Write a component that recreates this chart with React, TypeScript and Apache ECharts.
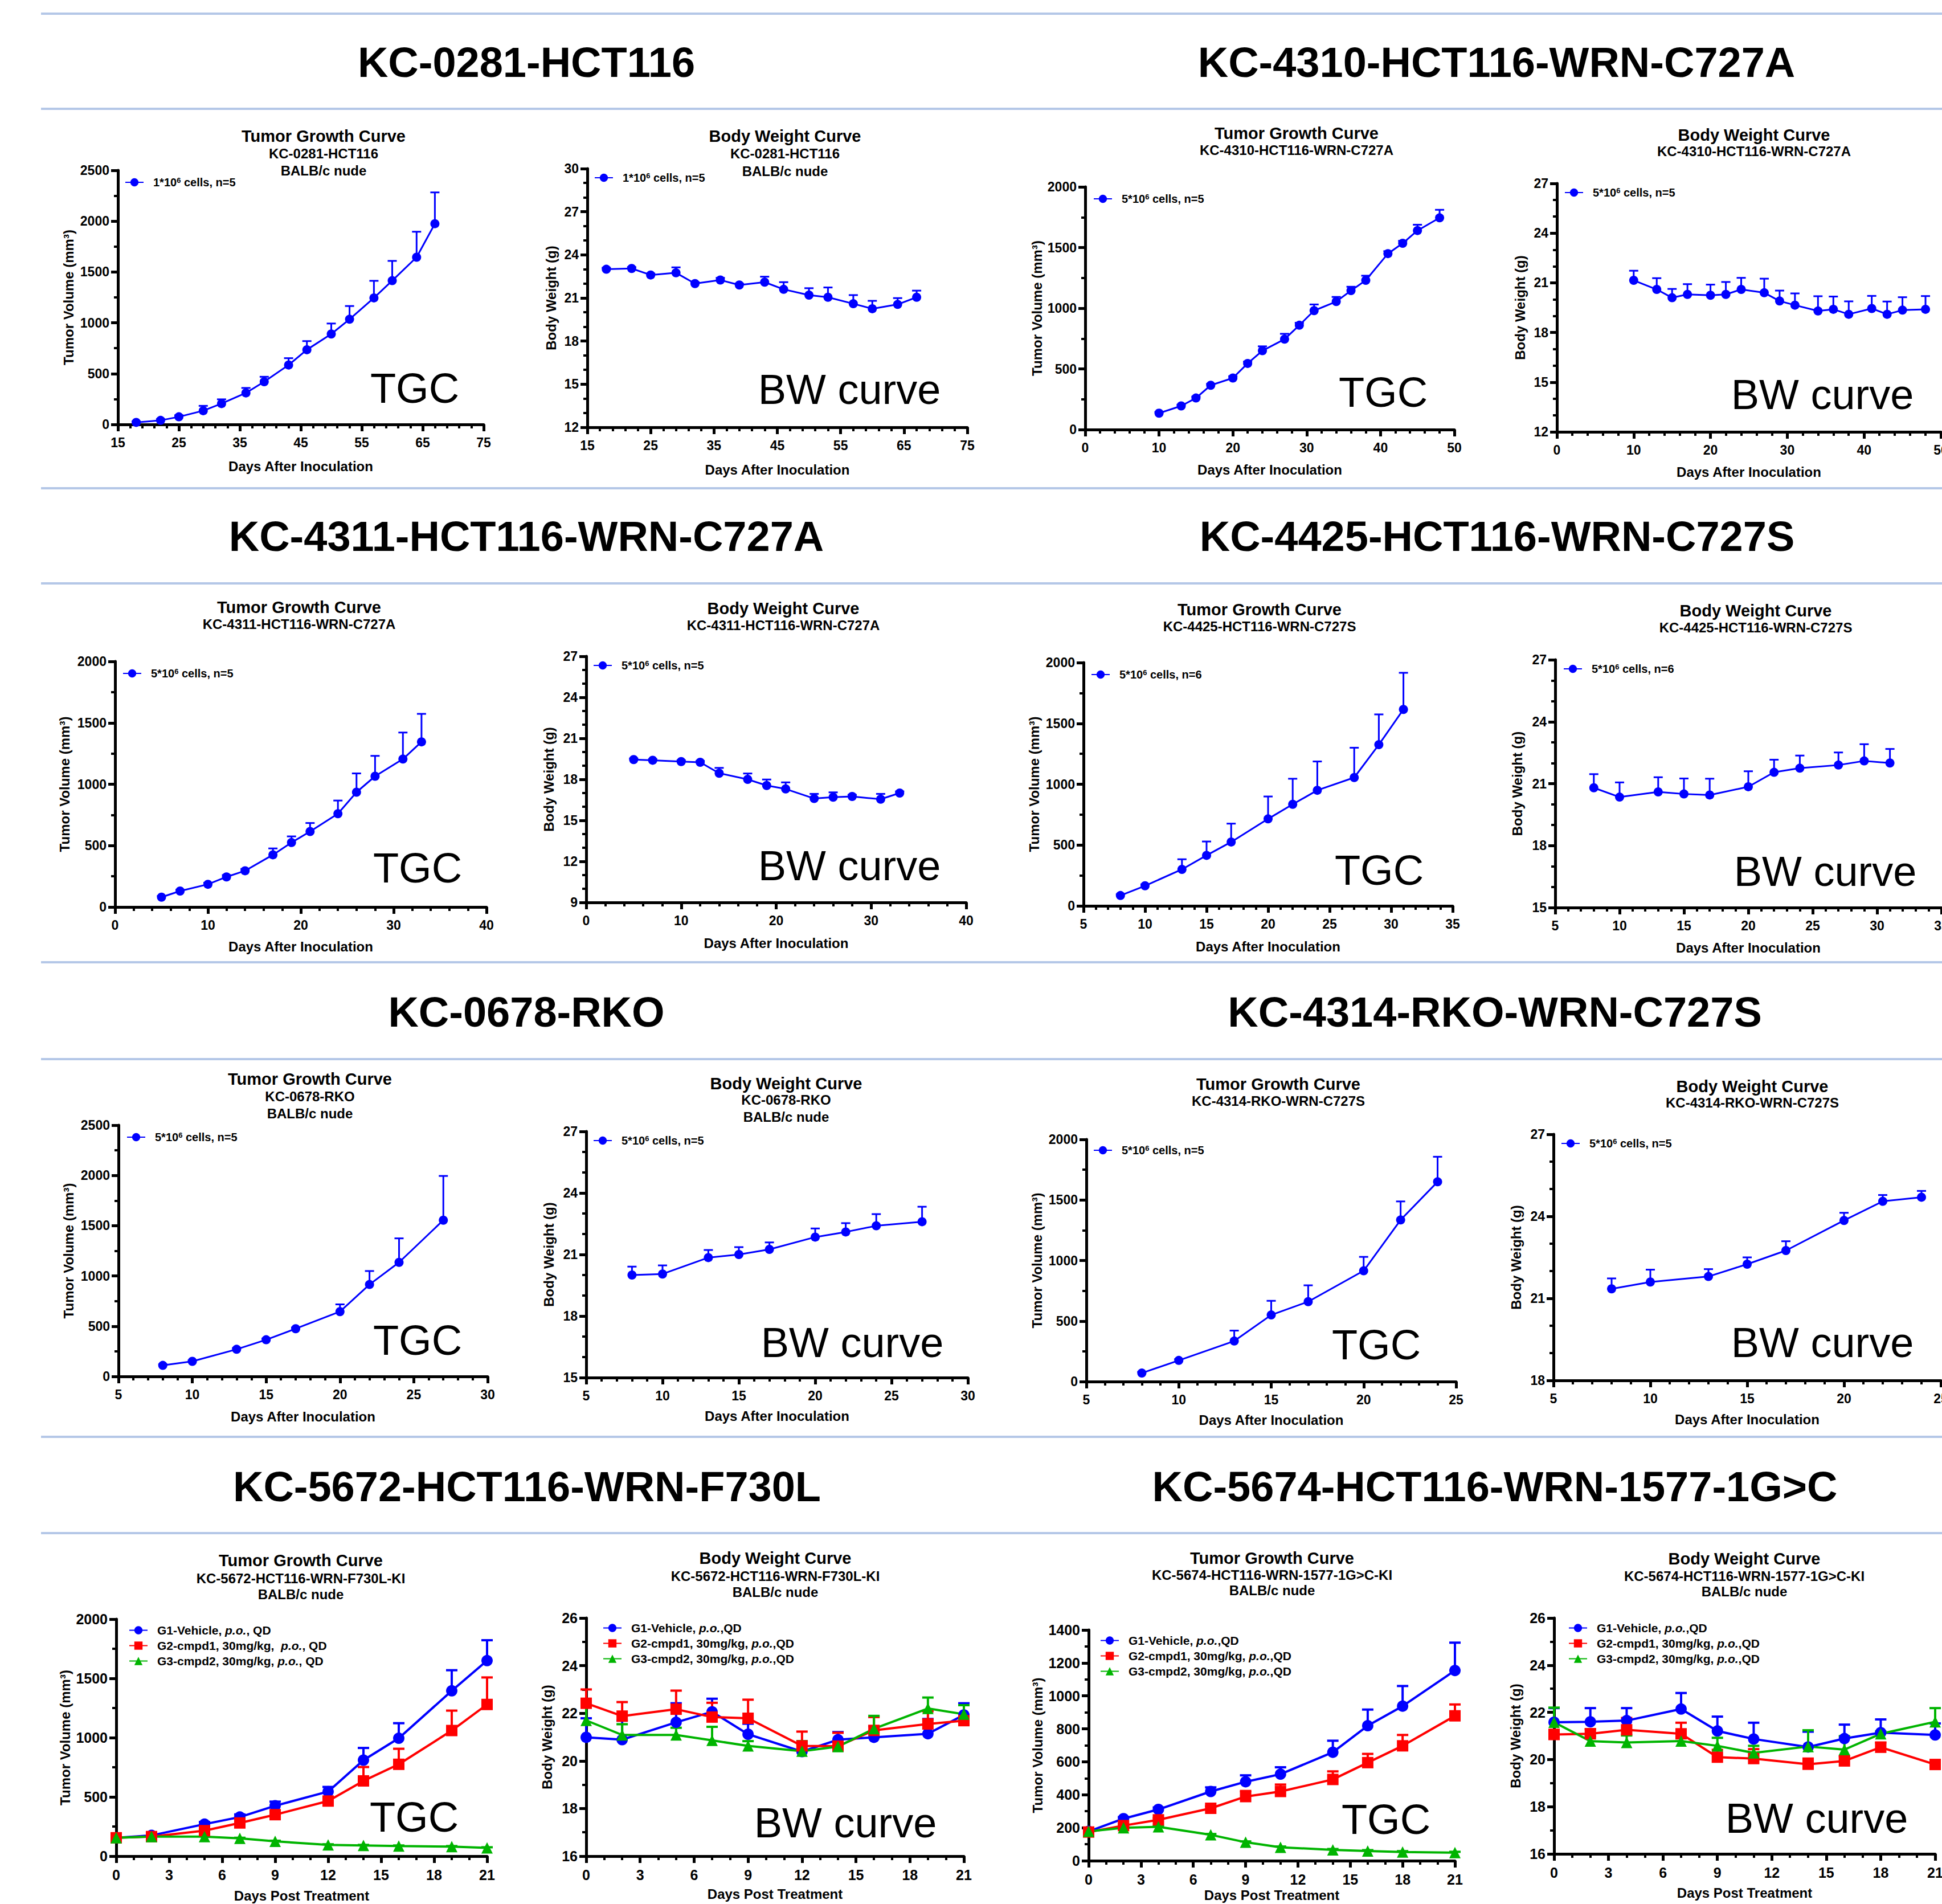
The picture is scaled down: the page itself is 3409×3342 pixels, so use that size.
import React, { useEffect, useRef } from "react";
import * as echarts from "echarts";

const W = 3409;
const H = 3342;
const FONT = "'Liberation Sans', Arial, Helvetica, sans-serif";
const BLUE = "#0000FF";
const RED = "#FF0000";
const GREEN = "#00B400";

// ---------- KC-0281-HCT116 ----------
const days0281 = [18, 22, 25, 29, 32, 36, 39, 43, 46, 50, 53, 57, 60, 64, 67];
const tgc0281 = [20, 40, 75, 135, 205, 310, 420, 585, 735, 890, 1035, 1245, 1415, 1645, 1975];
const tgc0281Sd = [10, 12, 15, 48, 42, 49, 49, 67, 85, 103, 130, 168, 194, 251, 308];
const bw0281 = [23.0, 23.05, 22.6, 22.75, 22.0, 22.25, 21.9, 22.1, 21.6, 21.2, 21.05, 20.6, 20.25, 20.55, 21.05];
const bw0281Sd = [0.1, 0.1, 0.1, 0.38, 0.1, 0.15, 0.1, 0.38, 0.5, 0.48, 0.68, 0.6, 0.55, 0.44, 0.46];
const ticks0281Major = [15, 25, 35, 45, 55, 65, 75];
const ticks0281Minor = [17, 19, 21, 23, 27, 29, 31, 33, 37, 39, 41, 43, 47, 49, 51, 53, 57, 59, 61, 63, 67, 69, 71, 73];

// ---------- KC-4310-HCT116-WRN-C727A ----------
const days4310 = [10, 13, 15, 17, 20, 22, 24, 27, 29, 31, 34, 36, 38, 41, 43, 45, 48];
const tgc4310 = [135, 195, 260, 365, 425, 545, 650, 745, 860, 980, 1055, 1145, 1230, 1450, 1535, 1640, 1745];
const tgc4310Sd = [10, 10, 12, 12, 15, 15, 36, 44, 20, 51, 38, 32, 38, 20, 20, 48, 66];
const bw4310 = [21.15, 20.6, 20.1, 20.3, 20.25, 20.3, 20.6, 20.4, 19.9, 19.65, 19.3, 19.4, 19.1, 19.45, 19.1, 19.35, 19.4];
const bw4310Sd = [0.58, 0.68, 0.53, 0.62, 0.64, 0.75, 0.7, 0.85, 0.63, 0.71, 0.89, 0.77, 0.78, 0.76, 0.77, 0.78, 0.8];

// ---------- KC-4311-HCT116-WRN-C727A ----------
const days4311 = [5, 7, 10, 12, 14, 17, 19, 21, 24, 26, 28, 31, 33];
const tgc4311 = [80, 130, 185, 245, 295, 425, 525, 615, 760, 935, 1065, 1205, 1345];
const tgc4311Sd = [10, 10, 12, 15, 15, 52, 50, 69, 107, 153, 166, 216, 228];
const bw4311 = [19.45, 19.4, 19.3, 19.25, 18.45, 18.0, 17.55, 17.3, 16.6, 16.7, 16.75, 16.55, 17.0];
const bw4311Sd = [0.08, 0.08, 0.1, 0.1, 0.39, 0.43, 0.44, 0.48, 0.34, 0.35, 0.12, 0.39, 0.12];

// ---------- KC-4425-HCT116-WRN-C727S ----------
const days4425 = [8, 10, 13, 15, 17, 20, 22, 24, 27, 29, 31];
const tgc4425 = [85, 165, 300, 415, 525, 715, 835, 950, 1055, 1325, 1615];
const tgc4425Sd = [10, 12, 83, 114, 151, 184, 210, 237, 245, 249, 301];
const bw4425 = [20.8, 20.35, 20.6, 20.5, 20.45, 20.85, 21.55, 21.75, 21.9, 22.1, 22.0];
const bw4425Sd = [0.66, 0.71, 0.71, 0.75, 0.79, 0.75, 0.61, 0.61, 0.61, 0.81, 0.68];

// ---------- KC-0678-RKO ----------
const days0678 = [8, 10, 13, 15, 17, 20, 22, 24, 27];
const tgc0678 = [110, 150, 270, 365, 475, 645, 915, 1135, 1555];
const tgc0678Sd = [10, 10, 12, 12, 12, 72, 134, 239, 440];
const bw0678 = [20.0, 20.05, 20.85, 21.0, 21.25, 21.85, 22.1, 22.4, 22.6];
const bw0678Sd = [0.41, 0.42, 0.37, 0.36, 0.34, 0.42, 0.43, 0.57, 0.73];

// ---------- KC-4314-RKO-WRN-C727S ----------
const days4314 = [8, 10, 13, 15, 17, 20, 22, 24];
const tgc4314 = [70, 175, 335, 550, 660, 915, 1335, 1650];
const tgc4314Sd = [10, 10, 86, 117, 135, 115, 153, 207];
const bw4314 = [21.35, 21.6, 21.8, 22.25, 22.75, 23.85, 24.55, 24.7];
const bw4314Sd = [0.38, 0.45, 0.27, 0.25, 0.34, 0.28, 0.23, 0.23];

// ---------- KC-5672-HCT116-WRN-F730L-KI ----------
const days5672 = [0, 2, 5, 7, 9, 12, 14, 16, 19, 21];
const tgc5672G1 = [155, 175, 270, 330, 425, 545, 810, 995, 1395, 1650];
const tgc5672G1Sd = [10, 12, 18, 22, 35, 39, 103, 127, 174, 172];
const tgc5672G2 = [155, 165, 215, 280, 350, 465, 635, 775, 1060, 1280];
const tgc5672G2Sd = [8, 10, 15, 18, 22, 28, 117, 131, 168, 228];
const tgc5672G3 = [155, 165, 165, 150, 125, 95, 90, 85, 80, 70];
const tgc5672G3Sd = [5, 5, 5, 5, 5, 5, 5, 5, 5, 5];
const bw5672G1 = [20.99, 20.89, 21.62, 22.06, 21.12, 20.39, 20.89, 20.99, 21.14, 21.93];
const bw5672G1Sd = [0.8, 0.8, 0.8, 0.55, 0.44, 0.34, 0.32, 0.46, 0.62, 0.49];
const bw5672G2 = [22.42, 21.88, 22.17, 21.84, 21.79, 20.63, 20.62, 21.28, 21.55, 21.69];
const bw5672G2Sd = [0.58, 0.59, 0.78, 0.6, 0.78, 0.6, 0.56, 0.56, 0.53, 0.65];
const bw5672G3 = [21.7, 21.09, 21.09, 20.86, 20.63, 20.41, 20.6, 21.35, 22.2, 21.96];
const bw5672G3Sd = [0.6, 0.45, 0.3, 0.57, 0.2, 0.42, 0.2, 0.54, 0.46, 0.38];

// ---------- KC-5674-HCT116-WRN-1577-1G>C-KI ----------
const days5674 = [0, 2, 4, 7, 9, 11, 14, 16, 18, 21];
const tgc5674G1 = [178, 255, 311, 420, 479, 525, 658, 819, 938, 1154];
const tgc5674G1Sd = [8, 10, 12, 25, 39, 42, 70, 98, 122, 169];
const tgc5674G2 = [174, 213, 248, 318, 389, 420, 493, 595, 697, 879];
const tgc5674G2Sd = [6, 8, 10, 12, 34, 42, 49, 53, 66, 69];
const tgc5674G3 = [178, 200, 206, 157, 112, 81, 66, 59, 53, 49];
const tgc5674G3Sd = [5, 5, 5, 5, 5, 5, 5, 5, 5, 5];
const bw5674G1 = [21.58, 21.6, 21.65, 22.14, 21.21, 20.87, 20.53, 20.89, 21.14, 21.04];
const bw5674G1Sd = [0.6, 0.58, 0.53, 0.68, 0.61, 0.69, 0.65, 0.59, 0.56, 0.49];
const bw5674G2 = [21.06, 21.09, 21.26, 21.09, 20.1, 20.04, 19.8, 19.94, 20.52, 19.79];
const bw5674G2Sd = [0.2, 0.2, 0.5, 0.47, 0.31, 0.4, 0.24, 0.2, 0.2, 0.15];
const bw5674G3 = [21.58, 20.78, 20.72, 20.78, 20.58, 20.28, 20.55, 20.42, 21.09, 21.6];
const bw5674G3Sd = [0.62, 0.2, 0.3, 0.2, 0.34, 0.3, 0.69, 0.57, 0.1, 0.58];

// ---------- texts ----------
const TGC_Y = "Tumor Volume (mm³)";
const BW_Y = "Body Weight (g)";
const DAI = "Days After Inoculation";
const DPT = "Days Post Treatment";
const cells1n5 = "1*10^6 cells, n=5";
const cells5n5 = "5*10^6 cells, n=5";
const cells5n6 = "5*10^6 cells, n=6";
const g1a = "G1-Vehicle, p.o., QD";
const g2a = "G2-cmpd1, 30mg/kg,  p.o., QD";
const g3a = "G3-cmpd2, 30mg/kg, p.o., QD";
const g1b = "G1-Vehicle, p.o.,QD";
const g2b = "G2-cmpd1, 30mg/kg, p.o.,QD";
const g3b = "G3-cmpd2, 30mg/kg, p.o.,QD";

const sectionTitles: [string, number, number][] = [
  ["KC-0281-HCT116", 924, 109],
  ["KC-4310-HCT116-WRN-C727A", 2627, 109],
  ["KC-4311-HCT116-WRN-C727A", 924, 941],
  ["KC-4425-HCT116-WRN-C727S", 2628, 941],
  ["KC-0678-RKO", 924, 1776],
  ["KC-4314-RKO-WRN-C727S", 2624, 1776],
  ["KC-5672-HCT116-WRN-F730L", 925, 2609],
  ["KC-5674-HCT116-WRN-1577-1G>C", 2624, 2609],
];
const separatorYs = [24, 191, 857, 1024, 1689, 1859, 2522, 2691];

type Ser = { name: string; x: number[]; y: number[]; sd: number[]; color: string; symbol: string };
type Panel = {
  grid: number[];
  xr: number[];
  yr: number[];
  xName: string;
  yName: string;
  xGap: number;
  yGap: number;
  legend: number[];
  series: Ser[];
  big: boolean;
  titleX: number;
  titles: [string, number][];
  tag: string;
  tagPos: number[];
  customX?: number[][];
};

const one = (name: string, x: number[], y: number[], sd: number[]): Ser[] => [
  { name, x, y, sd, color: BLUE, symbol: "circle" },
];
const three = (n: string[], x: number[], ys: number[][], sds: number[][]): Ser[] => [
  { name: n[0], x, y: ys[0], sd: sds[0], color: BLUE, symbol: "circle" },
  { name: n[1], x, y: ys[1], sd: sds[1], color: RED, symbol: "rect" },
  { name: n[2], x, y: ys[2], sd: sds[2], color: GREEN, symbol: "triangle" },
];

const panels: Panel[] = [
  {
    grid: [207, 299, 642, 446], xr: [15, 75, 10, 5], yr: [0, 2500, 500, 2], xName: DAI, yName: TGC_Y, xGap: 61, yGap: 75,
    legend: [219, 310], series: one(cells1n5, days0281, tgc0281, tgc0281Sd), big: false, titleX: 568,
    titles: [["Tumor Growth Curve", 239], ["KC-0281-HCT116", 269], ["BALB/c nude", 299]], tag: "TGC", tagPos: [728, 681],
    customX: [ticks0281Major, ticks0281Minor],
  },
  {
    grid: [1031, 296, 667, 454], xr: [15, 75, 10, 5], yr: [12, 30, 3, 3], xName: DAI, yName: BW_Y, xGap: 62, yGap: 52,
    legend: [1043, 302], series: one(cells1n5, days0281, bw0281, bw0281Sd), big: false, titleX: 1378,
    titles: [["Body Weight Curve", 239], ["KC-0281-HCT116", 269], ["BALB/c nude", 300]], tag: "BW curve", tagPos: [1491, 683],
    customX: [ticks0281Major, ticks0281Minor],
  },
  {
    grid: [1905, 328, 648, 426], xr: [0, 50, 10, 5], yr: [0, 2000, 500, 2], xName: DAI, yName: TGC_Y, xGap: 58, yGap: 73,
    legend: [1919, 339], series: one(cells5n5, days4310, tgc4310, tgc4310Sd), big: false, titleX: 2276,
    titles: [["Tumor Growth Curve", 234], ["KC-4310-HCT116-WRN-C727A", 263]], tag: "TGC", tagPos: [2428, 688],
  },
  {
    grid: [2733, 322, 674, 436], xr: [0, 50, 10, 5], yr: [12, 27, 3, 3], xName: DAI, yName: BW_Y, xGap: 58, yGap: 53,
    legend: [2746, 328], series: one(cells5n5, days4310, bw4310, bw4310Sd), big: false, titleX: 3079,
    titles: [["Body Weight Curve", 237], ["KC-4310-HCT116-WRN-C727A", 265]], tag: "BW curve", tagPos: [3199, 692],
  },
  {
    grid: [202, 1161, 652, 431], xr: [0, 40, 10, 5], yr: [0, 2000, 500, 2], xName: DAI, yName: TGC_Y, xGap: 57, yGap: 77,
    legend: [215, 1172], series: one(cells5n5, days4311, tgc4311, tgc4311Sd), big: false, titleX: 525,
    titles: [["Tumor Growth Curve", 1066], ["KC-4311-HCT116-WRN-C727A", 1095]], tag: "TGC", tagPos: [733, 1523],
  },
  {
    grid: [1029, 1152, 667, 432], xr: [0, 40, 10, 5], yr: [9, 27, 3, 3], xName: DAI, yName: BW_Y, xGap: 59, yGap: 54,
    legend: [1041, 1158], series: one(cells5n5, days4311, bw4311, bw4311Sd), big: false, titleX: 1375,
    titles: [["Body Weight Curve", 1068], ["KC-4311-HCT116-WRN-C727A", 1097]], tag: "BW curve", tagPos: [1491, 1519],
  },
  {
    grid: [1902, 1163, 648, 427], xr: [5, 35, 5, 5], yr: [0, 2000, 500, 2], xName: DAI, yName: TGC_Y, xGap: 59, yGap: 75,
    legend: [1915, 1174], series: one(cells5n6, days4425, tgc4425, tgc4425Sd), big: false, titleX: 2211,
    titles: [["Tumor Growth Curve", 1070], ["KC-4425-HCT116-WRN-C727S", 1099]], tag: "TGC", tagPos: [2421, 1527],
  },
  {
    grid: [2730, 1158, 678, 435], xr: [5, 35, 5, 5], yr: [15, 27, 3, 3], xName: DAI, yName: BW_Y, xGap: 58, yGap: 55,
    legend: [2744, 1164], series: one(cells5n6, days4425, bw4425, bw4425Sd), big: false, titleX: 3082,
    titles: [["Body Weight Curve", 1072], ["KC-4425-HCT116-WRN-C727S", 1101]], tag: "BW curve", tagPos: [3204, 1529],
  },
  {
    grid: [208, 1975, 648, 441], xr: [5, 30, 5, 5], yr: [0, 2500, 500, 2], xName: DAI, yName: TGC_Y, xGap: 58, yGap: 76,
    legend: [222, 1986], series: one(cells5n5, days0678, tgc0678, tgc0678Sd), big: false, titleX: 544,
    titles: [["Tumor Growth Curve", 1894], ["KC-0678-RKO", 1924], ["BALB/c nude", 1954]], tag: "TGC", tagPos: [733, 2352],
  },
  {
    grid: [1029, 1986, 670, 432], xr: [5, 30, 5, 5], yr: [15, 27, 3, 3], xName: DAI, yName: BW_Y, xGap: 55, yGap: 54,
    legend: [1041, 1992], series: one(cells5n5, days0678, bw0678, bw0678Sd), big: false, titleX: 1380,
    titles: [["Body Weight Curve", 1902], ["KC-0678-RKO", 1930], ["BALB/c nude", 1960]], tag: "BW curve", tagPos: [1496, 2356],
  },
  {
    grid: [1907, 2000, 649, 425], xr: [5, 25, 5, 5], yr: [0, 2000, 500, 2], xName: DAI, yName: TGC_Y, xGap: 55, yGap: 75,
    legend: [1919, 2009], series: one(cells5n5, days4314, tgc4314, tgc4314Sd), big: false, titleX: 2244,
    titles: [["Tumor Growth Curve", 1903], ["KC-4314-RKO-WRN-C727S", 1932]], tag: "TGC", tagPos: [2416, 2360],
  },
  {
    grid: [2727, 1991, 680, 432], xr: [5, 25, 5, 5], yr: [18, 27, 3, 3], xName: DAI, yName: BW_Y, xGap: 56, yGap: 54,
    legend: [2740, 1997], series: one(cells5n5, days4314, bw4314, bw4314Sd), big: false, titleX: 3076,
    titles: [["Body Weight Curve", 1907], ["KC-4314-RKO-WRN-C727S", 1935]], tag: "BW curve", tagPos: [3199, 2356],
  },
  {
    grid: [204, 2842, 651, 416], xr: [0, 21, 3, 3], yr: [0, 2000, 500, 2], xName: DPT, yName: TGC_Y, xGap: 57, yGap: 78,
    legend: [226, 2851], big: true, titleX: 528,
    series: three([g1a, g2a, g3a], days5672, [tgc5672G1, tgc5672G2, tgc5672G3], [tgc5672G1Sd, tgc5672G2Sd, tgc5672G3Sd]),
    titles: [["Tumor Growth Curve", 2739], ["KC-5672-HCT116-WRN-F730L-KI", 2770], ["BALB/c nude", 2798]], tag: "TGC", tagPos: [727, 3189],
  },
  {
    grid: [1029, 2840, 663, 418], xr: [0, 21, 3, 3], yr: [16, 26, 2, 2], xName: DPT, yName: BW_Y, xGap: 54, yGap: 57,
    legend: [1058, 2847], big: true, titleX: 1361,
    series: three([g1b, g2b, g3b], days5672, [bw5672G1, bw5672G2, bw5672G3], [bw5672G1Sd, bw5672G2Sd, bw5672G3Sd]),
    titles: [["Body Weight Curve", 2735], ["KC-5672-HCT116-WRN-F730L-KI", 2766], ["BALB/c nude", 2794]], tag: "BW curve", tagPos: [1484, 3199],
  },
  {
    grid: [1911, 2861, 643, 405], xr: [0, 21, 3, 3], yr: [0, 1400, 200, 2], xName: DPT, yName: TGC_Y, xGap: 48, yGap: 78,
    legend: [1931, 2869], big: true, titleX: 2233,
    series: three([g1b, g2b, g3b], days5674, [tgc5674G1, tgc5674G2, tgc5674G3], [tgc5674G1Sd, tgc5674G2Sd, tgc5674G3Sd]),
    titles: [["Tumor Growth Curve", 2735], ["KC-5674-HCT116-WRN-1577-1G>C-KI", 2764], ["BALB/c nude", 2791]], tag: "TGC", tagPos: [2433, 3193],
  },
  {
    grid: [2728, 2840, 669, 414], xr: [0, 21, 3, 3], yr: [16, 26, 2, 2], xName: DPT, yName: BW_Y, xGap: 56, yGap: 56,
    legend: [2753, 2847], big: true, titleX: 3062,
    series: three([g1b, g2b, g3b], days5674, [bw5674G1, bw5674G2, bw5674G3], [bw5674G1Sd, bw5674G2Sd, bw5674G3Sd]),
    titles: [["Body Weight Curve", 2736], ["KC-5674-HCT116-WRN-1577-1G>C-KI", 2766], ["BALB/c nude", 2793]], tag: "BW curve", tagPos: [3189, 3191],
  },
];

function baseAxis(i: number, r: number[], name: string, gap: number, labelSize: number, margin: number): any {
  return {
    type: "value",
    gridIndex: i,
    min: r[0],
    max: r[1],
    interval: r[2],
    name,
    nameLocation: "middle",
    nameGap: gap,
    nameTextStyle: { color: "#000", fontFamily: FONT, fontSize: 24, fontWeight: "bold" },
    axisLine: { show: true, onZero: false, lineStyle: { color: "#000", width: 5 } },
    axisTick: { show: true, inside: false, length: 12, lineStyle: { color: "#000", width: 5 } },
    minorTick: { show: true, splitNumber: r[3], length: 7, lineStyle: { color: "#000", width: 4 } },
    axisLabel: {
      show: true,
      color: "#000",
      fontFamily: FONT,
      fontSize: labelSize,
      fontWeight: "bold",
      margin,
      formatter: (v: number) => String(v),
    },
    splitLine: { show: false },
    minorSplitLine: { show: false },
  };
}

function makeErr(color: string, lw: number, half: number) {
  return (params: any, api: any) => {
    const x = api.value(0);
    const y = api.value(1);
    const sd = api.value(2);
    const p0 = api.coord([x, y]);
    const p1 = api.coord([x, y + sd]);
    return {
      type: "group",
      children: [
        { type: "line", shape: { x1: p0[0], y1: p0[1], x2: p1[0], y2: p1[1] }, style: { stroke: color, lineWidth: lw } },
        { type: "line", shape: { x1: p1[0] - half, y1: p1[1], x2: p1[0] + half, y2: p1[1] }, style: { stroke: color, lineWidth: lw } },
      ],
    };
  };
}

function legendText(name: string) {
  return name.replace("^6", "{s|6}").replace("p.o.", "{i|p.o.}");
}

function buildOption(): any {
  const grids: any[] = [];
  const xAxes: any[] = [];
  const extraX: any[] = [];
  const yAxes: any[] = [];
  const legends: any[] = [];
  const series: any[] = [];
  const graphics: any[] = [];

  separatorYs.forEach((y) => {
    graphics.push({
      type: "line",
      silent: true,
      shape: { x1: 72, y1: y, x2: W, y2: y },
      style: { stroke: "#B4C7E7", lineWidth: 4 },
    });
  });
  sectionTitles.forEach(([t, x, y]) => {
    graphics.push({
      type: "text",
      silent: true,
      x,
      y,
      style: { text: t, fill: "#000", font: `bold 74px ${FONT}`, align: "center", verticalAlign: "middle", textAlign: "center", textVerticalAlign: "middle" },
    });
  });

  panels.forEach((p, i) => {
    grids.push({ left: p.grid[0], top: p.grid[1], width: p.grid[2], height: p.grid[3], containLabel: false, outerBoundsMode: "none" });
    const labelSize = p.big ? 25 : 23;
    const xa = baseAxis(i, p.xr, p.xName, p.xGap, labelSize, 20);
    xa.position = "bottom";
    if (p.customX) {
      xa.axisTick.customValues = p.customX[0];
      xa.axisLabel.customValues = p.customX[0];
      xa.minorTick = { show: false };
      extraX.push({
        type: "value",
        gridIndex: i,
        position: "bottom",
        min: p.xr[0],
        max: p.xr[1],
        axisLine: { show: false },
        axisLabel: { show: false },
        splitLine: { show: false },
        axisTick: { show: true, customValues: p.customX[1], length: 7, lineStyle: { color: "#000", width: 4 } },
      });
    }
    xAxes.push(xa);
    const ya = baseAxis(i, p.yr, p.yName, p.yGap, labelSize, 15);
    ya.position = "left";
    yAxes.push(ya);

    const fs = p.big ? 21 : 20;
    legends.push({
      orient: "vertical",
      left: p.legend[0],
      top: p.legend[1],
      padding: 0,
      itemWidth: 32,
      itemHeight: 18,
      itemGap: p.big ? 6 : 10,
      selectedMode: false,
      data: p.series.map((s) => s.name),
      formatter: (n: string) => legendText(n),
      textStyle: {
        color: "#000",
        fontFamily: FONT,
        fontSize: fs,
        fontWeight: "bold",
        padding: [0, 0, 0, 12],
        rich: {
          s: { fontSize: 13, fontWeight: "bold", fontFamily: FONT, color: "#000", verticalAlign: "top" },
          i: { fontSize: fs, fontWeight: "bold", fontStyle: "italic", fontFamily: FONT, color: "#000" },
        },
      },
    });

    p.series.forEach((s) => {
      series.push({
        type: "line",
        name: s.name,
        xAxisIndex: i,
        yAxisIndex: i,
        data: s.x.map((d, k) => [d, s.y[k]]),
        symbol: s.symbol,
        symbolSize: p.big ? 20 : 16,
        showSymbol: true,
        lineStyle: { color: s.color, width: p.big ? 4 : 3 },
        itemStyle: { color: s.color },
        z: 3,
        emphasis: { disabled: true },
        silent: true,
      });
      series.push({
        type: "custom",
        name: s.name + " (SD)",
        xAxisIndex: i,
        yAxisIndex: i,
        data: s.x.map((d, k) => [d, s.y[k], s.sd[k]]),
        encode: { x: 0, y: 1 },
        z: 2,
        silent: true,
        renderItem: makeErr(s.color, p.big ? 4 : 3, p.big ? 10 : 8),
      });
    });

    p.titles.forEach(([t, y], k) => {
      graphics.push({
        type: "text",
        silent: true,
        x: p.titleX,
        y,
        style: {
          text: t,
          fill: "#000",
          font: `bold ${k === 0 ? 29 : 24}px ${FONT}`,
          align: "center",
          verticalAlign: "middle",
          textAlign: "center",
          textVerticalAlign: "middle",
        },
      });
    });
    graphics.push({
      type: "text",
      silent: true,
      x: p.tagPos[0],
      y: p.tagPos[1],
      style: {
        text: p.tag,
        fill: "#000",
        font: `74px ${FONT}`,
        align: "center",
        verticalAlign: "middle",
        textAlign: "center",
        textVerticalAlign: "middle",
      },
    });
  });

  return {
    animation: false,
    backgroundColor: "#ffffff",
    textStyle: { fontFamily: FONT },
    grid: grids,
    xAxis: xAxes.concat(extraX),
    yAxis: yAxes,
    legend: legends,
    series,
    graphic: { elements: graphics },
  };
}

export default function App() {
  const ref = useRef<HTMLDivElement>(null);
  useEffect(() => {
    if (!ref.current) return;
    const chart = echarts.init(ref.current, null, { renderer: "svg", width: W, height: H });
    chart.setOption(buildOption());
    return () => chart.dispose();
  }, []);
  return (
    <div
      ref={ref}
      style={{ position: "absolute", left: 0, top: 0, width: W, height: H, background: "#fff", overflow: "hidden" }}
    />
  );
}
